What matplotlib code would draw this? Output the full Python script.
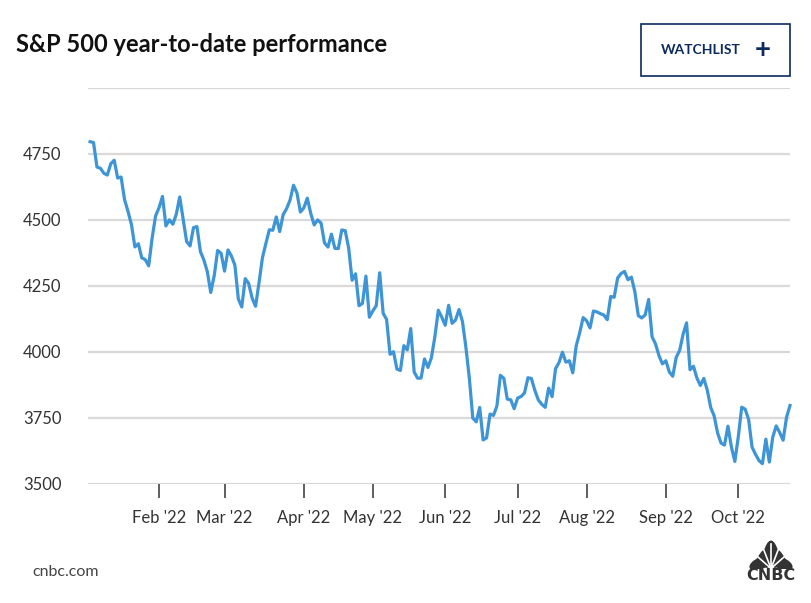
import numpy as np
import matplotlib.pyplot as plt
from matplotlib.patches import Rectangle, Ellipse

plt.rcParams['font.family'] = ['Lato', 'DejaVu Sans']

# daily closes, one list per month (trading days)
jan = [4796.56, 4793.54, 4700.58, 4696.05, 4677.03, 4670.29, 4713.07, 4726.35, 4659.03, 4662.85,
       4577.11, 4532.76, 4482.73, 4397.94, 4410.13, 4356.45, 4349.93, 4326.51, 4431.85, 4515.55]
feb = [4546.54, 4589.38, 4477.44, 4500.53, 4483.87, 4521.54, 4587.18, 4504.08, 4418.64, 4401.67,
       4471.07, 4475.01, 4380.26, 4348.87, 4304.76, 4225.50, 4288.70, 4384.65, 4373.94]
mar = [4306.26, 4386.54, 4363.49, 4328.87, 4201.09, 4170.70, 4277.88, 4259.52, 4204.31, 4173.11,
       4262.45, 4357.86, 4411.67, 4463.12, 4461.18, 4511.61, 4456.24, 4520.16, 4543.06, 4575.52,
       4631.60, 4602.45, 4530.41]
apr = [4545.86, 4582.64, 4525.12, 4481.15, 4500.21, 4488.28, 4412.53, 4397.45, 4446.59, 4392.59,
       4391.69, 4462.21, 4459.45, 4393.66, 4271.78, 4296.12, 4175.20, 4183.96, 4287.50, 4131.93]
may = [4155.38, 4175.48, 4300.17, 4146.87, 4123.34, 3991.24, 4001.05, 3935.18, 3930.08, 4023.89,
       4008.01, 4088.85, 3923.68, 3900.79, 3901.36, 3973.75, 3941.48, 3978.73, 4057.84, 4158.24,
       4132.15]
jun = [4101.23, 4176.82, 4108.54, 4121.43, 4160.68, 4115.77, 4017.82, 3900.86, 3749.63, 3735.48,
       3789.99, 3666.77, 3674.84, 3764.79, 3759.89, 3795.73, 3911.74, 3900.11, 3821.55, 3818.83,
       3785.38]
jul = [3825.33, 3831.39, 3845.08, 3902.62, 3899.38, 3854.43, 3818.80, 3801.78, 3790.38, 3863.16,
       3830.85, 3936.69, 3959.90, 3998.95, 3961.63, 3966.84, 3921.05, 4023.61, 4072.43, 4130.29]
aug = [4118.63, 4091.19, 4155.17, 4151.94, 4145.19, 4140.06, 4122.47, 4210.24, 4207.27, 4280.15,
       4297.14, 4305.20, 4274.04, 4283.74, 4228.48, 4137.99, 4128.73, 4140.77, 4199.12, 4057.66,
       4030.61, 3986.16, 3955.00]
sep = [3966.85, 3924.26, 3908.19, 3979.87, 4006.18, 4067.36, 4110.41, 3932.69, 3946.01, 3901.35,
       3873.33, 3899.89, 3855.93, 3789.93, 3757.99, 3693.23, 3655.04, 3647.29, 3719.04, 3640.47,
       3585.62]
oct_ = [3678.43, 3790.93, 3783.28, 3744.52, 3639.66, 3612.39, 3588.84, 3577.03, 3669.91, 3583.07,
        3677.95, 3719.98, 3695.16, 3665.78, 3752.75, 3797.34]

months = [jan, feb, mar, apr, may, jun, jul, aug, sep, oct_]
month_labels = ["Feb '22", "Mar '22", "Apr '22", "May '22", "Jun '22",
                "Jul '22", "Aug '22", "Sep '22", "Oct '22"]
y_ticks = [3500, 3750, 4000, 4250, 4500, 4750]

closes = np.concatenate(months)
x = np.arange(len(closes))
month_starts = np.cumsum([len(m) for m in months])[:-1]

fig = plt.figure(figsize=(8.12, 6.03), dpi=100)
ax = fig.add_axes([88 / 812, 1 - 484 / 603, 702 / 812, 396 / 603])

for v in y_ticks + [5000]:
    ax.axhline(v, color='#d9d9d9', lw=1.6, zorder=1)

ax.plot(x, closes, color='#3d94d6', lw=2.3, zorder=3, solid_joinstyle='round', clip_on=False)

ax.set_xlim(-0.6, len(closes) - 1)
ax.set_ylim(3500, 5000)
for s in ax.spines.values():
    s.set_visible(False)

ax.set_yticks(y_ticks)
ax.set_yticklabels([str(v) for v in y_ticks])
ax.tick_params(axis='y', length=0, pad=19, labelsize=12, labelcolor='#333333')
ax.set_xticks(month_starts)
ax.set_xticklabels(month_labels)
ax.tick_params(axis='x', length=10, width=1.1, color='#333333', direction='out',
               pad=9, labelsize=12, labelcolor='#333333')

# header
fig.text(16 / 812, 1 - 44 / 603, "S&P 500 year-to-date performance", fontsize=17,
         fontweight='bold', color='#111111', va='center', ha='left')
fig.patches.append(Rectangle((641 / 812, 1 - 76 / 603), 149 / 812, 52 / 603,
                             transform=fig.transFigure, fill=False,
                             edgecolor='#0c2a5e', lw=1.2))
fig.text(701 / 812, 1 - 50 / 603, "WATCHLIST", fontsize=10, fontweight='bold',
         color='#0c2a5e', va='center', ha='center')
fig.text(763 / 812, 1 - 50 / 603, "+", fontsize=20, fontweight='bold',
         color='#0c2a5e', va='center', ha='center')

# footer
fig.text(32 / 812, 1 - 572 / 603, "cnbc.com", fontsize=11.5, color='#444444',
         va='center', ha='left')
fig.text(771 / 812, 1 - 576 / 603, "CNBC", fontsize=11.5, fontweight='heavy',
         color='#333333', va='center', ha='center', family='DejaVu Sans')
logo = fig.add_axes([749 / 812, 1 - 569 / 603, 44 / 812, 30 / 603])
logo.set_xlim(-1, 1)
logo.set_ylim(0, 1.2)
logo.axis('off')
for ang in [70, 40, 12, -12, -40, -70]:
    r = np.radians(90 - ang)
    cx, cy = 0.48 * np.cos(r), 0.05 + 0.55 * np.sin(r)
    logo.add_patch(Ellipse((cx, cy), 0.42, 1.05, angle=ang, color='#333333'))
for ang in [55, 26, 0, -26, -55]:
    r = np.radians(90 - ang)
    logo.plot([0, 0.9 * np.cos(r)], [0.02, 0.02 + 1.0 * np.sin(r)], color='white', lw=1.2)

fig.savefig("out.png", dpi=100, facecolor='white')
